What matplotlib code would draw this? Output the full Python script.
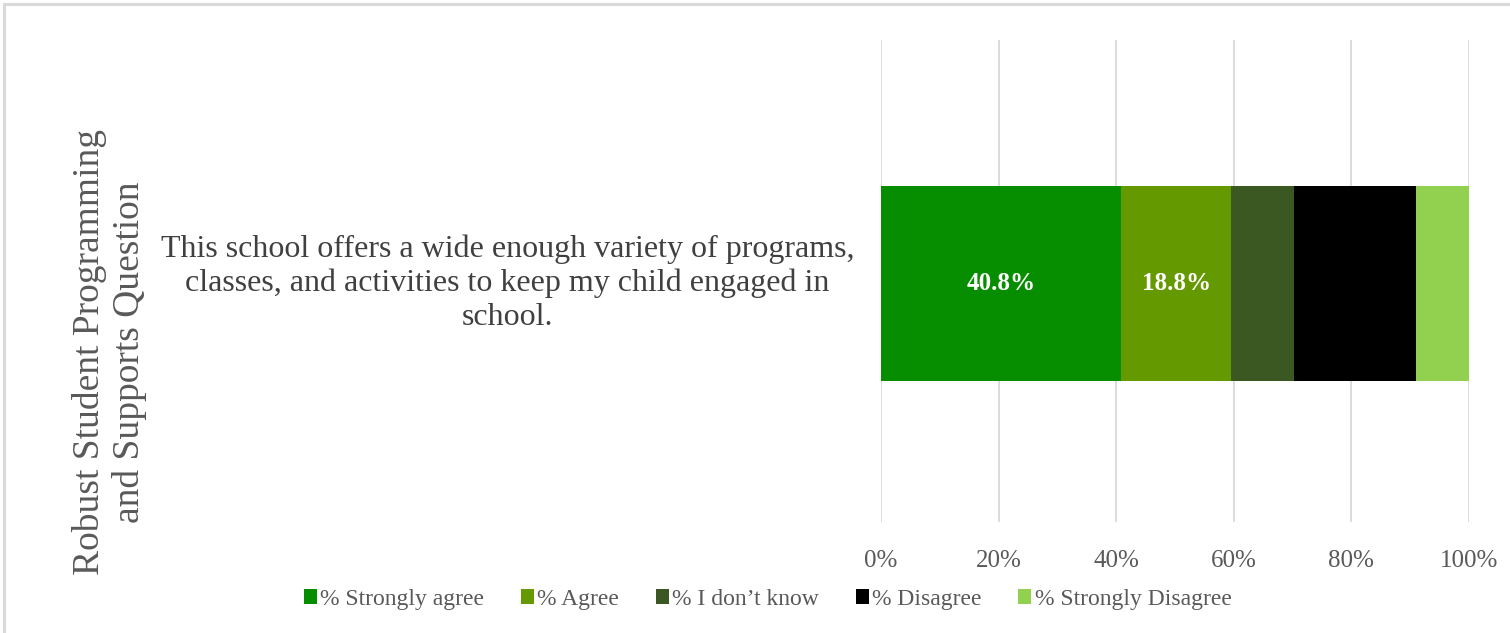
import numpy as np
import matplotlib.pyplot as plt
from matplotlib.patches import Rectangle

question = 'This school offers a wide enough variety of programs,\nclasses, and activities to keep my child engaged in\nschool.'
responses = ['% Strongly agree', '% Agree', '% I don\u2019t know', '% Disagree', '% Strongly Disagree']
shares = [40.8, 18.8, 10.7, 20.7, 9.0]
shown = [True, True, False, False, False]
colors = ['#078E00', '#649A00', '#3B5823', '#000000', '#92D050']
ticks = [0, 20, 40, 60, 80, 100]

plt.rcParams['font.family'] = ['Liberation Serif', 'DejaVu Serif']

fig = plt.figure(figsize=(15.1, 6.33), dpi=100)
ax = fig.add_axes([0.5834, 0.175, 0.3894, 0.762])

left = 0
for name, val, col, lab in zip(responses, shares, colors, shown):
    ax.barh([0], [val], left=left, height=0.405, color=col, label=name)
    if lab:
        ax.text(left + val / 2, 0, '%.1f%%' % val, ha='center', va='center',
                color='white', fontsize=18, fontweight='bold')
    left += val

ax.set_xlim(0, 100)
ax.set_ylim(-0.495, 0.505)
ax.set_xticks(ticks)
ax.set_xticklabels(['%d%%' % t for t in ticks], color='#595959', fontsize=18)
ax.set_yticks([])
ax.tick_params(axis='x', length=0, pad=20)
ax.grid(axis='x', color='#D9D9D9', linewidth=1.3)
ax.set_axisbelow(True)
for s in ax.spines.values():
    s.set_visible(False)

fig.text(0.336, 0.553, question, ha='center', va='center', fontsize=23,
         color='#404040', linespacing=1.22)
fig.text(0.0725, 0.444, 'Robust Student Programming\nand Supports Question', rotation=90,
         ha='center', va='center', fontsize=27, color='#595959', linespacing=1.2)

ax.legend(loc='center', bbox_to_anchor=(0.5085, 0.053), bbox_transform=fig.transFigure,
          ncol=5, frameon=False, fontsize=17, handlelength=0.55, handleheight=0.55,
          handletextpad=0.15, columnspacing=1.55, labelcolor='#595959')

fig.patches.append(Rectangle((0.0026, -0.1), 1.1, 1.1 - 0.0071, transform=fig.transFigure,
                             fill=False, edgecolor='#D9D9D9', linewidth=2.2))

fig.savefig('out.png', dpi=100)
